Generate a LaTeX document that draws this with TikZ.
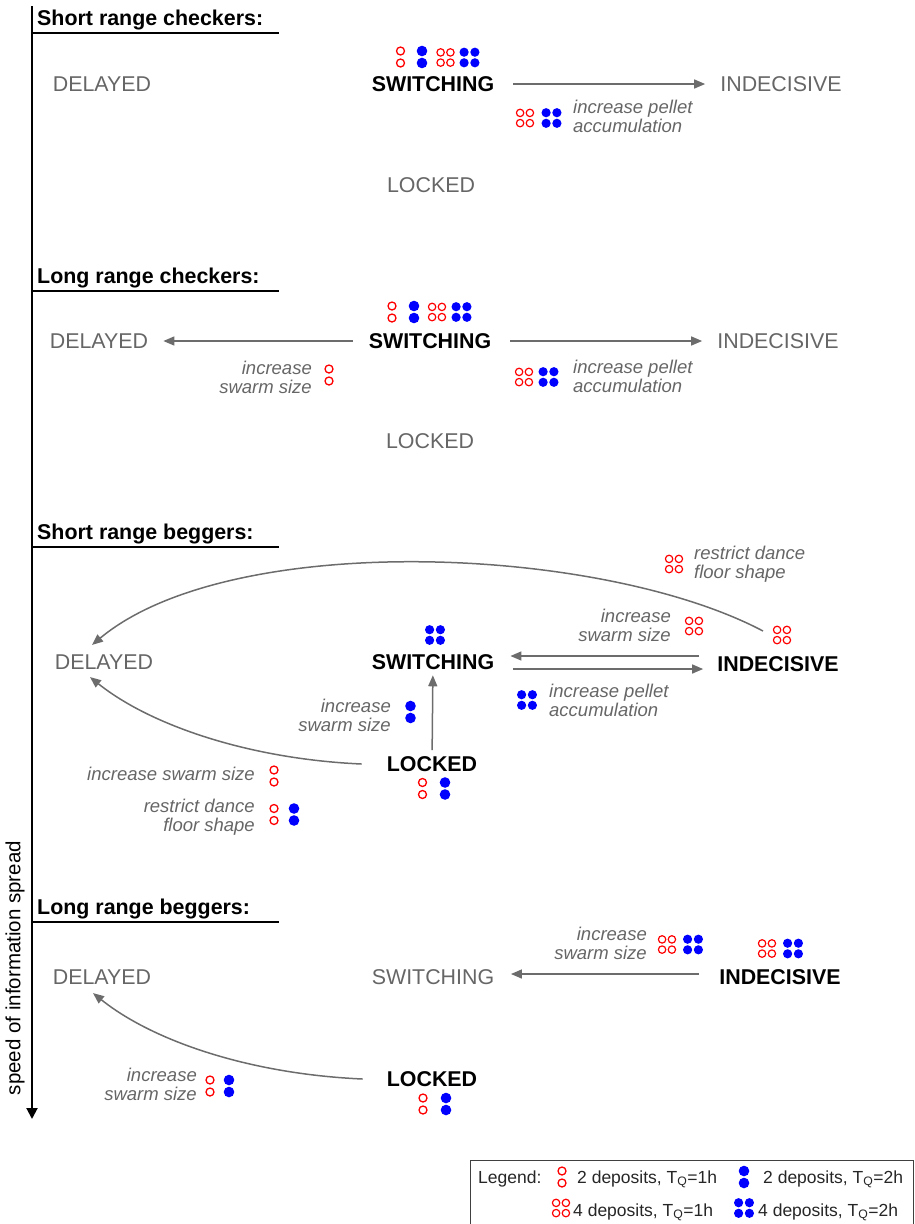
\documentclass[tikz,border=0pt]{standalone}
\usepackage{fontspec}
\setmainfont{Liberation Sans}
\usetikzlibrary{arrows.meta}
\definecolor{tgray}{RGB}{102,102,102}
\definecolor{agray}{RGB}{108,108,108}
\definecolor{ired}{RGB}{255,0,0}
\definecolor{iblue}{RGB}{0,0,255}
\newcommand\mysz[2]{\fontsize{#1}{#2}\selectfont}
\begin{document}
\begin{tikzpicture}[x=1pt,y=-1pt,
 stbold/.style={font=\mysz{21.4}{24}\bfseries, inner sep=0pt, text=black},
 stgray/.style={font=\mysz{21.4}{24}, inner sep=0pt, text=tgray},
 head/.style={font=\mysz{21.4}{24}\bfseries, inner sep=0pt, anchor=base west},
 note/.style={font=\mysz{18.5}{19}\itshape, inner sep=0pt, text=tgray},
 notel/.style={note, align=left, anchor=base west},
 noter/.style={note, align=right, anchor=base east},
 legtext/.style={font=\mysz{17.5}{20}, inner sep=0pt, anchor=base west, text=black!85},
 arr/.style={draw=agray, line width=1.5pt, -{Triangle[length=11pt,width=9pt]}},
 headline/.style={line width=2pt},
 red2/.pic={\draw[ired,line width=1.3pt] (0,-6) circle[radius=4pt] (0,6) circle[radius=4pt];},
 blue2/.pic={\fill[iblue] (0,-6) circle[radius=5.3pt] (0,6) circle[radius=5.3pt];},
 red4/.pic={\draw[ired,line width=1.2pt] (-4.9,-5.1) circle[radius=3.7pt] (4.9,-5.1) circle[radius=3.7pt] (-4.9,5.1) circle[radius=3.7pt] (4.9,5.1) circle[radius=3.7pt];},
 blue4/.pic={\fill[iblue] (-5.4,-5.3) circle[radius=4.6pt] (5.4,-5.3) circle[radius=4.6pt] (-5.4,5.3) circle[radius=4.6pt] (5.4,5.3) circle[radius=4.6pt];},
]
\useasboundingbox (0,0) rectangle (915,1224);

% axis
\draw[line width=2pt, -{Triangle[length=11pt,width=11pt]}] (32,6) -- (32,1119);
\node[rotate=90, font=\mysz{20.5}{24}, inner sep=0pt] (ax) at (15,968) {speed of information spread};

% ---------------- Section 1 ----------------
\node[head] (h1) at (37,25.5) {Short range checkers:};
\draw[headline] (32,33) -- (279,33);
\node[stgray] (de1) at (102,84) {DELAYED};
\node[stbold] (sw1) at (433,84) {SWITCHING};
\node[stgray] (in1) at (781,84) {INDECISIVE};
\node[stgray] (lo1) at (431,185) {LOCKED};
\pic at (400.5,57) {red2};
\pic at (422,57) {blue2};
\pic at (445.5,57.5) {red4};
\pic at (469.5,57.5) {blue4};
\draw[arr, shorten <=19pt, shorten >=15pt] (sw1) -- (in1);
\pic at (525,118) {red4};
\pic at (551.5,118) {blue4};
\node[notel] (n1) at (573,132) {increase pellet\\accumulation};

% ---------------- Section 2 ----------------
\node[head] (h2) at (37,283) {Long range checkers:};
\draw[headline] (32,291) -- (279,291);
\node[stgray] (de2) at (99,341) {DELAYED};
\node[stbold] (sw2) at (430,341) {SWITCHING};
\node[stgray] (in2) at (778,341) {INDECISIVE};
\node[stgray] (lo2) at (430,441) {LOCKED};
\pic at (392,312) {red2};
\pic at (414,312) {blue2};
\pic at (437,312) {red4};
\pic at (461.5,312) {blue4};
\draw[arr, shorten <=16pt, shorten >=15pt] (sw2) -- (de2);
\draw[arr, shorten <=19pt, shorten >=15pt] (sw2) -- (in2);
\node[noter] (n2) at (312,393) {increase\\swarm size};
\pic at (329,375) {red2};
\pic at (524,377) {red4};
\pic at (548.5,377) {blue4};
\node[notel] (n3) at (573,392) {increase pellet\\accumulation};

% ---------------- Section 3 ----------------
\node[head] (h3) at (37,539) {Short range beggers:};
\draw[headline] (32,547) -- (279,547);
\node[stgray] (de3) at (104,662) {DELAYED};
\node[stbold] (sw3) at (433,662) {SWITCHING};
\node[stbold] (in3) at (778,664) {INDECISIVE};
\node[stbold] (lo3) at (432,764) {LOCKED};
\pic at (435,635) {blue4};
\pic at (782,635) {red4};
\pic at (422.5,788.5) {red2};
\pic at (445,788.5) {blue2};
% arrows
\draw[arr] ([xshift=-18pt,yshift=8pt]in3.west) -- ([xshift=16pt,yshift=6pt]sw3.east);
\draw[arr] ([xshift=19pt,yshift=-7pt]sw3.east) -- ([xshift=-14pt,yshift=-5pt]in3.west);
\draw[arr, shorten <=6pt, shorten >=5.5pt] (lo3) -- (sw3);
\draw[arr] ([xshift=-25pt]lo3.west) .. controls +(-113,-5) and +(60,48) .. ([xshift=-14pt,yshift=-7.5pt]de3.south);
\draw[arr] ([xshift=-15pt,yshift=33pt]in3.center) .. controls +(-163,-86) and +(138,-115) .. ([xshift=-12pt,yshift=9.5pt]de3.north);
% notes
\pic at (674,564) {red4};
\node[notel] (n4) at (694,578) {restrict dance\\floor shape};
\node[noter] (n5) at (671,641) {increase\\swarm size};
\pic at (694,626) {red4};
\pic at (527,700) {blue4};
\node[notel] (n6) at (549,716) {increase pellet\\accumulation};
\node[noter] (n7) at (391,731) {increase\\swarm size};
\pic at (410.5,712) {blue2};
\node[noter] (n8) at (255,780) {increase swarm size};
\pic at (274,776) {red2};
\node[noter] (n9) at (255,831) {restrict dance\\floor shape};
\pic at (274,814.5) {red2};
\pic at (294,814.5) {blue2};

% ---------------- Section 4 ----------------
\node[head] (h4) at (37,914) {Long range beggers:};
\draw[headline] (32,922) -- (279,922);
\node[stgray] (de4) at (102,977) {DELAYED};
\node[stgray] (sw4) at (433,977) {SWITCHING};
\node[stbold] (in4) at (780,977) {INDECISIVE};
\node[stbold] (lo4) at (432,1079) {LOCKED};
\pic at (767,948.5) {red4};
\pic at (793,948.5) {blue4};
\pic at (423,1104) {red2};
\pic at (446,1104) {blue2};
\draw[arr] ([xshift=-20pt,yshift=3pt]in4.west) -- ([xshift=16.5pt,yshift=3pt]sw4.east);
\node[noter] (n10) at (647,959) {increase\\swarm size};
\pic at (667,944.5) {red4};
\pic at (693,944.5) {blue4};
\draw[arr] ([xshift=-24pt]lo4.west) .. controls +(-113,-5) and +(60,48) .. ([xshift=-9pt,yshift=-8.5pt]de4.south);
\node[noter] (n11) at (197,1100) {increase\\swarm size};
\pic at (210,1086) {red2};
\pic at (229,1086) {blue2};

% ---------------- Legend ----------------
\draw[line width=1pt, black!75] (470,1226) -- (470,1160) -- (913,1160) -- (913,1226);
\node[legtext] (lg) at (478,1183) {Legend:};
\pic at (562,1177) {red2};
\node[legtext] (l1) at (577,1183) {2 deposits, T\textsubscript{Q}=1h};
\pic at (744,1177) {blue2};
\node[legtext] (l2) at (763,1183) {2 deposits, T\textsubscript{Q}=2h};
\pic at (561,1208) {red4};
\node[legtext] (l3) at (573,1216) {4 deposits, T\textsubscript{Q}=1h};
\pic at (744,1208) {blue4};
\node[legtext] (l4) at (758,1216) {4 deposits, T\textsubscript{Q}=2h};
\end{tikzpicture}
\end{document}
